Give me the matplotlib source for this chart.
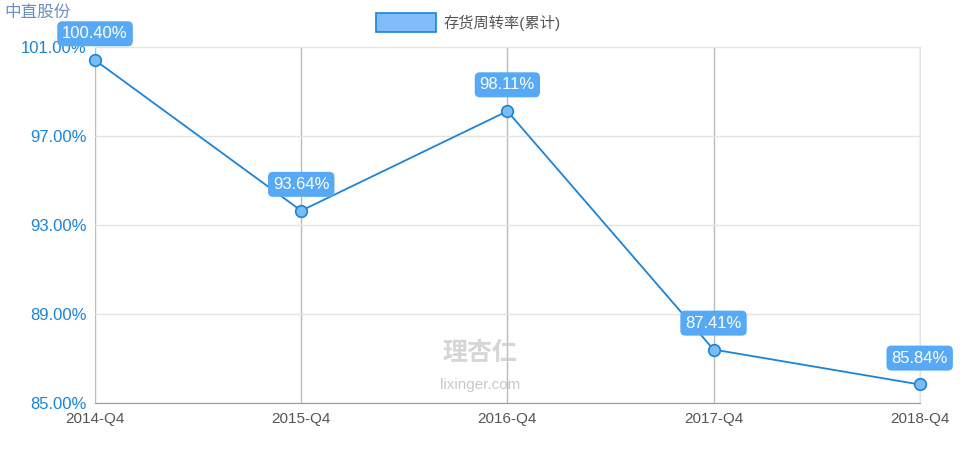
import matplotlib.pyplot as plt
from matplotlib.patches import Rectangle

plt.rcParams['font.family'] = ['Liberation Sans', 'Noto Sans CJK SC', 'DejaVu Sans']

quarters = ['2014-Q4', '2015-Q4', '2016-Q4', '2017-Q4', '2018-Q4']
turnover = [100.40, 93.64, 98.11, 87.41, 85.84]
yticks = [85, 89, 93, 97, 101]

fig = plt.figure(figsize=(9.6, 4.5), dpi=100)
ax = fig.add_axes([0.099, 0.104, 0.859, 0.792])

line_c = '#1a84d8'
ax.plot(range(len(quarters)), turnover, color=line_c, lw=1.3, zorder=3)
ax.scatter(range(len(quarters)), turnover, s=70, facecolor='#7cbcf5',
           edgecolor=line_c, lw=1.2, zorder=4, clip_on=False)

for i, v in enumerate(turnover):
    ax.annotate(f'{v:.2f}%', (i, v), xytext=(0, 19), textcoords='offset points',
                ha='center', va='center', color='white', fontsize=12,
                bbox=dict(boxstyle='round,pad=0.3', fc='#57a9f5', ec='none'),
                zorder=5)

ax.set_xlim(0, len(quarters) - 1)
ax.set_ylim(85, 101)
ax.set_xticks(range(len(quarters)))
ax.set_xticklabels(quarters, fontsize=11, color='#555555')
ax.set_yticks(yticks)
ax.set_yticklabels([f'{t:.2f}%' for t in yticks], fontsize=12, color='#1a84d8')
ax.tick_params(length=0, pad=6)
ax.grid(axis='x', color='#bbbbbb', lw=1)
ax.grid(axis='y', color='#e3e3e3', lw=1)
for s in ['top', 'right']:
    ax.spines[s].set_color('#e3e3e3')
ax.spines['left'].set_visible(False)
ax.spines['bottom'].set_color('#999999')

fig.text(0.005, 0.972, '中直股份', fontsize=12, color='#6a8fc0', va='center')
fig.patches.append(Rectangle((0.392, 0.930), 0.062, 0.04, transform=fig.transFigure,
                             fc='#80bdf8', ec='#1a84d8', lw=1.2))
fig.text(0.462, 0.950, '存货周转率(累计)', fontsize=11, color='#555555', va='center')

fig.text(0.5, 0.2, '理杏仁', fontsize=18, color='#cccccc', ha='center', weight='bold', alpha=0.8)
fig.text(0.5, 0.135, 'lixinger.com', fontsize=11, color='#bbbbbb', ha='center', alpha=0.8)

fig.savefig('out.png', dpi=100)
